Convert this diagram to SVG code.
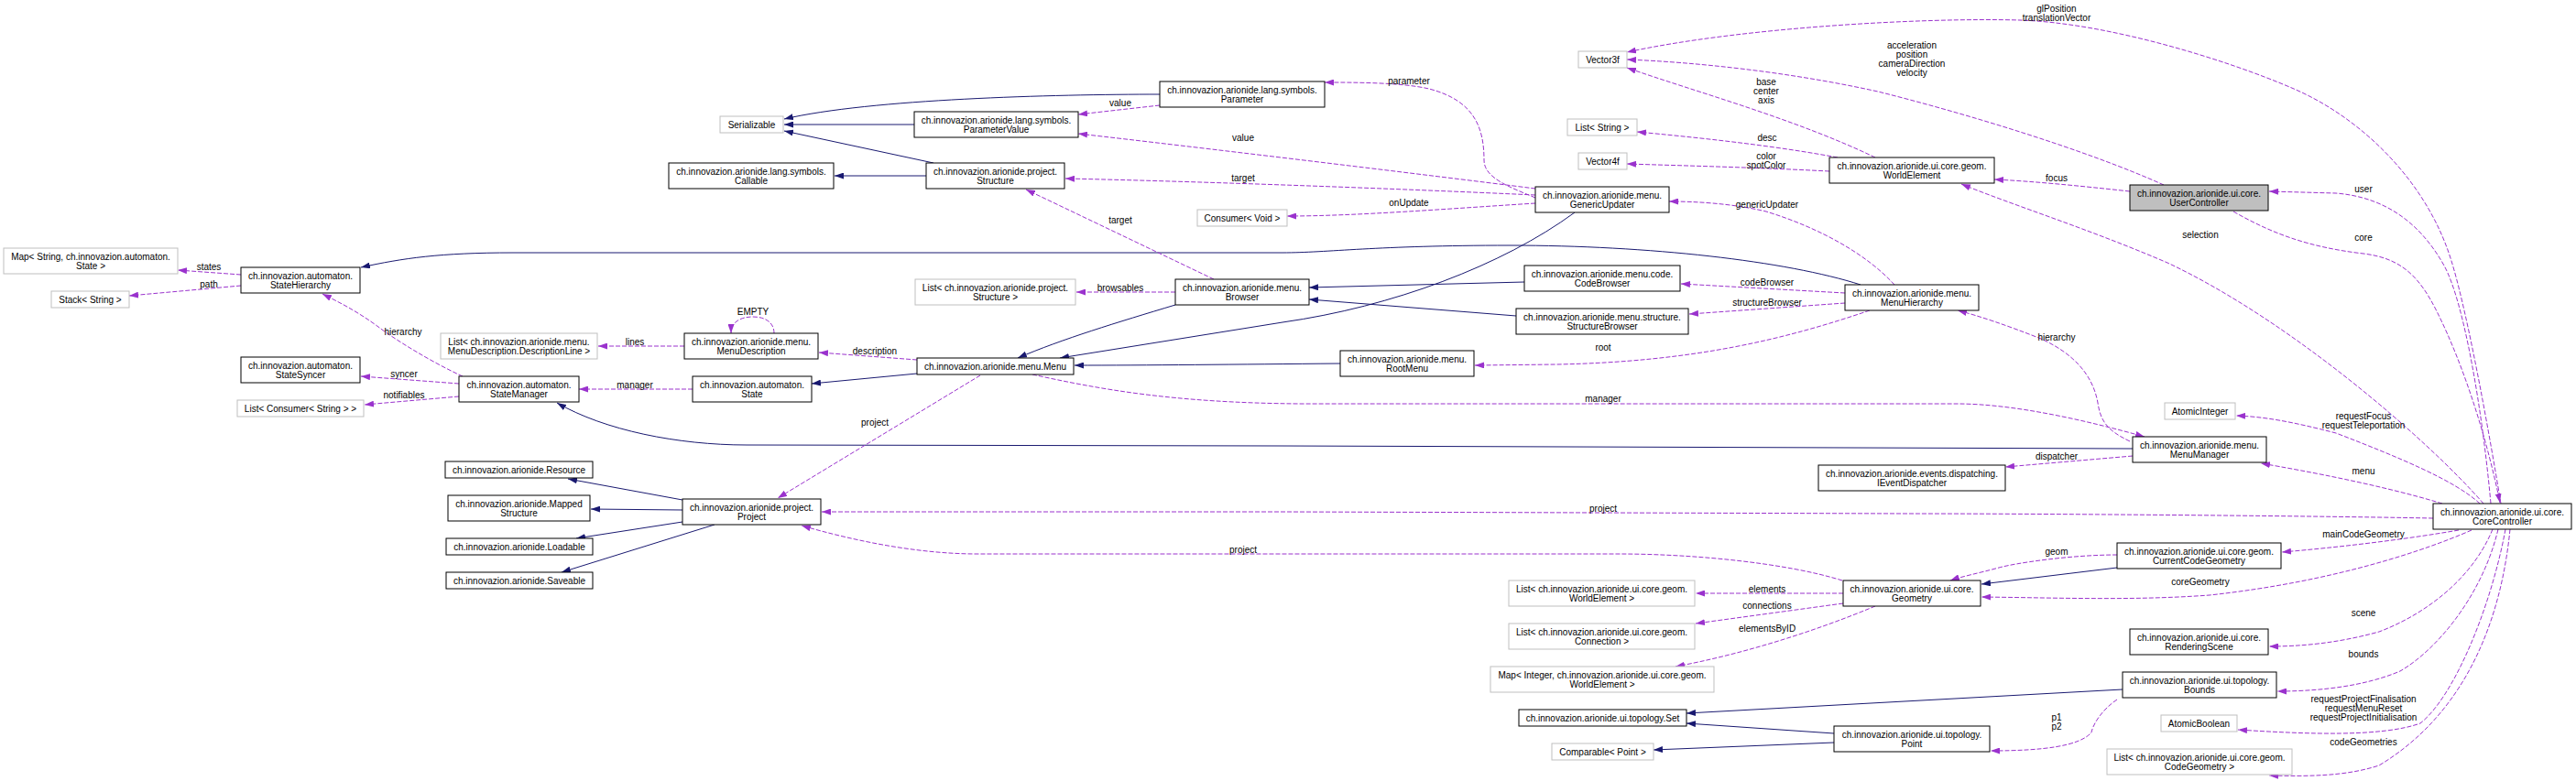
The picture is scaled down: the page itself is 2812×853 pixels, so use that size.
<svg xmlns="http://www.w3.org/2000/svg" width="2812" height="853" viewBox="0 0 2812 853">
<style>
rect{fill:#fff;stroke:#000;stroke-width:1}
.x rect{stroke:#bfbfbf}
.hl rect{fill:#bfbfbf;stroke:#000}
text{font-family:"Liberation Sans",Arial,sans-serif;font-size:10px;text-anchor:middle;fill:#000}
.inh{fill:none;stroke:#191970;stroke-width:1;marker-end:url(#ab)}
.use{fill:none;stroke:#9a32cd;stroke-width:1;stroke-dasharray:5,2;marker-end:url(#ap)}
</style>
<defs>
<marker id="ab" viewBox="0 0 10 7" refX="10" refY="3.5" markerWidth="10" markerHeight="7" markerUnits="userSpaceOnUse" orient="auto"><path d="M0,0 L10,3.5 L0,7 z" fill="#191970"/></marker>
<marker id="ap" viewBox="0 0 10 7" refX="10" refY="3.5" markerWidth="10" markerHeight="7" markerUnits="userSpaceOnUse" orient="auto"><path d="M0,0 L10,3.5 L0,7 z" fill="#9a32cd"/></marker>
</defs>
<rect x="0" y="0" width="2812" height="853" style="fill:#fff;stroke:none"/>

<g id="connectors">
<!-- inheritance -->
<path class="inh" d="M1266,103 C1150,103 950,108 856,130"/>
<path class="inh" d="M998,136 L856,136"/>
<path class="inh" d="M1019,178 L856,143"/>
<path class="inh" d="M1011,192 L911,192"/>
<path class="inh" d="M1719,232 C1640,290 1520,335 1400,352 L1157,391"/>
<path class="inh" d="M1283,333 C1220,352 1160,370 1111,391"/>
<path class="inh" d="M1664,308 L1429,314"/>
<path class="inh" d="M1655,345 L1429,327"/>
<path class="inh" d="M1463,397 C1350,398 1250,399 1173,399"/>
<path class="inh" d="M1001,408 L886,419"/>
<path class="inh" d="M2031,311 C1950,285 1800,268 1648,268 C1500,268 1450,276 1400,276 L560,276 C480,276 440,282 394,292"/>
<path class="inh" d="M2328,490 L1400,487 L815,486 C740,486 660,470 608,440"/>
<path class="inh" d="M745,546 L620,523"/>
<path class="inh" d="M745,557 L645,556"/>
<path class="inh" d="M745,570 L629,588"/>
<path class="inh" d="M780,573 L613,625"/>
<path class="inh" d="M2311,620 L2163,638"/>
<path class="inh" d="M2317,753 L1841,779"/>
<path class="inh" d="M2002,801 L1841,790"/>
<path class="inh" d="M2002,811 L1805,819"/>
<!-- usage -->
<path class="use" d="M1676,216 C1650,205 1620,195 1620,175 C1620,140 1610,110 1560,97 C1530,90 1480,90 1446,90"/>
<text x="1538" y="92">parameter</text>
<path class="use" d="M1676,206 C1550,190 1300,160 1177,146"/>
<text x="1357" y="154">value</text>
<path class="use" d="M1266,115 L1177,125"/>
<text x="1223" y="116">value</text>
<path class="use" d="M1676,213 C1500,205 1300,198 1163,195"/>
<text x="1357" y="198">target</text>
<path class="use" d="M1676,222 C1580,228 1480,236 1405,236"/>
<text x="1538" y="225">onUpdate</text>
<path class="use" d="M1325,305 L1120,207"/>
<text x="1223" y="244">target</text>
<path class="use" d="M1283,319 L1175,319"/>
<text x="1223" y="318">browsables</text>
<path class="use" d="M2362,202 C2280,165 2150,125 2050,100 C1950,78 1850,68 1776,65"/>
<text x="2087" y="53">acceleration</text>
<text x="2087" y="63">position</text>
<text x="2087" y="73">cameraDirection</text>
<text x="2087" y="83">velocity</text>
<path class="use" d="M2730,550 C2710,430 2690,330 2676,285 C2650,200 2580,130 2504,97 C2430,65 2300,25 2205,22 C2100,19 1900,30 1776,57"/>
<text x="2245" y="13">glPosition</text>
<text x="2245" y="23">translationVector</text>
<path class="use" d="M2047,172 C1960,130 1850,100 1776,74"/>
<text x="1928" y="93">base</text>
<text x="1928" y="103">center</text>
<text x="1928" y="113">axis</text>
<path class="use" d="M2006,172 C1930,158 1850,150 1787,144"/>
<text x="1929" y="154">desc</text>
<path class="use" d="M1997,187 C1920,183 1840,181 1776,179"/>
<text x="1928" y="174">color</text>
<text x="1928" y="184">spotColor</text>
<path class="use" d="M2325,209 C2270,203 2220,198 2177,196"/>
<text x="2245" y="198">focus</text>
<path class="use" d="M2711,550 C2650,480 2500,350 2366,287 C2280,250 2200,225 2141,201"/>
<text x="2402" y="260">selection</text>
<path class="use" d="M2719,550 C2710,450 2690,330 2668,290 C2640,240 2600,215 2550,211 L2477,209"/>
<text x="2580" y="210">user</text>
<path class="use" d="M2438,231 C2480,255 2520,270 2580,277 C2620,282 2640,300 2660,340 C2690,400 2715,480 2729,549"/>
<text x="2580" y="263">core</text>
<path class="use" d="M2068,311 C2040,280 1990,250 1928,231 C1890,222 1850,220 1822,220"/>
<text x="1929" y="227">genericUpdater</text>
<path class="use" d="M2014,320 L1835,310"/>
<text x="1929" y="312">codeBrowser</text>
<path class="use" d="M2014,331 L1844,343"/>
<text x="1929" y="334">structureBrowser</text>
<path class="use" d="M2041,339 C1950,370 1850,395 1700,398 L1610,399"/>
<text x="1750" y="383">root</text>
<path class="use" d="M2325,482 C2300,470 2293,460 2290,440 C2283,400 2250,380 2228,370 C2190,355 2160,345 2137,339"/>
<text x="2245" y="372">hierarchy</text>
<path class="use" d="M1127,409 C1200,425 1280,440 1420,441 L2136,441 C2200,441 2280,460 2341,477"/>
<text x="1750" y="439">manager</text>
<path class="use" d="M505,411 C470,395 430,370 413,357 C390,340 370,330 352,321"/>
<text x="440" y="366">hierarchy</text>
<path class="use" d="M263,300 L194,295"/>
<text x="228" y="295">states</text>
<path class="use" d="M263,312 L141,323"/>
<text x="228" y="314">path</text>
<path class="use" d="M501,419 L394,411"/>
<text x="441" y="412">syncer</text>
<path class="use" d="M501,433 L398,442"/>
<text x="441" y="435">notifiables</text>
<path class="use" d="M756,425 L632,425"/>
<text x="693" y="424">manager</text>
<path class="use" d="M747,378 L653,378"/>
<text x="693" y="377">lines</text>
<path class="use" d="M845,364 C845,352 835,346 822,346 C808,346 798,352 798,364"/>
<text x="822" y="344">EMPTY</text>
<path class="use" d="M1001,393 L894,385"/>
<text x="955" y="387">description</text>
<path class="use" d="M1070,410 L849,544"/>
<text x="955" y="465">project</text>
<path class="use" d="M2011,634 C1950,615 1850,605 1767,605 L1067,605 C1000,605 930,590 875,574"/>
<text x="1357" y="604">project</text>
<path class="use" d="M2656,566 C2500,563 2200,561 2090,561 L1400,559 L897,559"/>
<text x="1750" y="559">project</text>
<path class="use" d="M2707,550 C2680,525 2620,500 2550,473 C2500,460 2470,455 2441,454"/>
<text x="2580" y="458">requestFocus</text>
<text x="2580" y="468">requestTeleportation</text>
<path class="use" d="M2666,550 C2600,530 2520,515 2468,506"/>
<text x="2580" y="518">menu</text>
<path class="use" d="M2328,498 L2189,510"/>
<text x="2245" y="502">dispatcher</text>
<path class="use" d="M2684,579 C2620,590 2550,598 2491,603"/>
<text x="2580" y="587">mainCodeGeometry</text>
<path class="use" d="M2311,606 C2260,606 2200,615 2182,620 C2160,626 2140,630 2129,634"/>
<text x="2245" y="606">geom</text>
<path class="use" d="M2698,579 C2650,600 2550,635 2412,650 C2330,656 2250,653 2163,652"/>
<text x="2402" y="639">coreGeometry</text>
<path class="use" d="M2012,648 L1851,648"/>
<text x="1929" y="647">elements</text>
<path class="use" d="M2012,659 L1851,681"/>
<text x="1929" y="665">connections</text>
<path class="use" d="M2047,662 C1980,690 1900,715 1829,728"/>
<text x="1929" y="690">elementsByID</text>
<path class="use" d="M2721,578 C2700,630 2650,670 2597,690 C2550,703 2510,706 2477,706"/>
<text x="2580" y="673">scene</text>
<path class="use" d="M2727,578 C2710,650 2660,710 2620,733 C2580,750 2530,755 2486,755"/>
<text x="2580" y="718">bounds</text>
<path class="use" d="M2311,764 C2295,775 2285,790 2283,800 C2270,815 2230,820 2173,820"/>
<text x="2245" y="787">p1</text>
<text x="2245" y="797">p2</text>
<path class="use" d="M2735,578 C2720,660 2680,760 2642,790 C2600,805 2520,802 2443,797"/>
<text x="2580" y="767">requestProjectFinalisation</text>
<text x="2580" y="777">requestMenuReset</text>
<text x="2580" y="787">requestProjectInitialisation</text>
<path class="use" d="M2740,578 C2730,680 2690,780 2597,836 C2560,848 2520,848 2477,847"/>
<text x="2580" y="814">codeGeometries</text>
</g>

<g id="MapState" class="x"><rect x="4" y="271" width="190" height="28"/><text x="99" y="283.5">Map&lt; String, ch.innovazion.automaton.</text><text x="99" y="293.5">State &gt;</text></g>
<g id="StateHierarchy"><rect x="263" y="292" width="130" height="28"/><text x="328" y="304.5">ch.innovazion.automaton.</text><text x="328" y="314.5">StateHierarchy</text></g>
<g id="StackString" class="x"><rect x="56" y="318" width="85" height="18"/><text x="98.5" y="330.5">Stack&lt; String &gt;</text></g>
<g id="DescriptionLineList" class="x"><rect x="481" y="364" width="171" height="28"/><text x="566.5" y="376.5">List&lt; ch.innovazion.arionide.menu.</text><text x="566.5" y="386.5">MenuDescription.DescriptionLine &gt;</text></g>
<g id="StateSyncer"><rect x="263" y="390" width="130" height="28"/><text x="328" y="402.5">ch.innovazion.automaton.</text><text x="328" y="412.5">StateSyncer</text></g>
<g id="StateManager"><rect x="501" y="411" width="131" height="28"/><text x="566.5" y="423.5">ch.innovazion.automaton.</text><text x="566.5" y="433.5">StateManager</text></g>
<g id="ConsumerStringList" class="x"><rect x="259" y="437" width="138" height="18"/><text x="328" y="449.5">List&lt; Consumer&lt; String &gt; &gt;</text></g>
<g id="Resource"><rect x="486" y="504" width="161" height="18"/><text x="566.5" y="516.5">ch.innovazion.arionide.Resource</text></g>
<g id="MappedStructure"><rect x="489" y="541" width="155" height="28"/><text x="566.5" y="553.5">ch.innovazion.arionide.Mapped</text><text x="566.5" y="563.5">Structure</text></g>
<g id="Loadable"><rect x="487" y="588" width="160" height="18"/><text x="567" y="600.5">ch.innovazion.arionide.Loadable</text></g>
<g id="Saveable"><rect x="487" y="625" width="160" height="18"/><text x="567" y="637.5">ch.innovazion.arionide.Saveable</text></g>
<g id="Serializable" class="x"><rect x="786" y="127" width="69" height="18"/><text x="820.5" y="139.5">Serializable</text></g>
<g id="Callable"><rect x="730" y="178" width="180" height="28"/><text x="820" y="190.5">ch.innovazion.arionide.lang.symbols.</text><text x="820" y="200.5">Callable</text></g>
<g id="ParameterValue"><rect x="998" y="122" width="179" height="28"/><text x="1087.5" y="134.5">ch.innovazion.arionide.lang.symbols.</text><text x="1087.5" y="144.5">ParameterValue</text></g>
<g id="Structure"><rect x="1011" y="178" width="151" height="28"/><text x="1086.5" y="190.5">ch.innovazion.arionide.project.</text><text x="1086.5" y="200.5">Structure</text></g>
<g id="Parameter"><rect x="1266" y="89" width="180" height="28"/><text x="1356" y="101.5">ch.innovazion.arionide.lang.symbols.</text><text x="1356" y="111.5">Parameter</text></g>
<g id="ConsumerVoid" class="x"><rect x="1307" y="229" width="98" height="18"/><text x="1356" y="241.5">Consumer&lt; Void &gt;</text></g>
<g id="Vector3f" class="x"><rect x="1723" y="56" width="53" height="18"/><text x="1749.5" y="68.5">Vector3f</text></g>
<g id="ListString" class="x"><rect x="1711" y="130" width="76" height="18"/><text x="1749" y="142.5">List&lt; String &gt;</text></g>
<g id="Vector4f" class="x"><rect x="1723" y="167" width="53" height="18"/><text x="1749.5" y="179.5">Vector4f</text></g>
<g id="GenericUpdater"><rect x="1676" y="204" width="146" height="28"/><text x="1749" y="216.5">ch.innovazion.arionide.menu.</text><text x="1749" y="226.5">GenericUpdater</text></g>
<g id="WorldElement"><rect x="1997" y="172" width="180" height="28"/><text x="2087" y="184.5">ch.innovazion.arionide.ui.core.geom.</text><text x="2087" y="194.5">WorldElement</text></g>
<g id="UserController" class="hl"><rect x="2325" y="202" width="151" height="28"/><text x="2400.5" y="214.5">ch.innovazion.arionide.ui.core.</text><text x="2400.5" y="224.5">UserController</text></g>
<g id="StructureList" class="x"><rect x="999" y="305" width="175" height="28"/><text x="1086.5" y="317.5">List&lt; ch.innovazion.arionide.project.</text><text x="1086.5" y="327.5">Structure &gt;</text></g>
<g id="Browser"><rect x="1283" y="305" width="146" height="28"/><text x="1356" y="317.5">ch.innovazion.arionide.menu.</text><text x="1356" y="327.5">Browser</text></g>
<g id="CodeBrowser"><rect x="1664" y="290" width="170" height="28"/><text x="1749" y="302.5">ch.innovazion.arionide.menu.code.</text><text x="1749" y="312.5">CodeBrowser</text></g>
<g id="StructureBrowser"><rect x="1655" y="337" width="188" height="28"/><text x="1749" y="349.5">ch.innovazion.arionide.menu.structure.</text><text x="1749" y="359.5">StructureBrowser</text></g>
<g id="MenuHierarchy"><rect x="2014" y="311" width="146" height="28"/><text x="2087" y="323.5">ch.innovazion.arionide.menu.</text><text x="2087" y="333.5">MenuHierarchy</text></g>
<g id="MenuDescription"><rect x="747" y="364" width="146" height="28"/><text x="820" y="376.5">ch.innovazion.arionide.menu.</text><text x="820" y="386.5">MenuDescription</text></g>
<g id="Menu"><rect x="1001" y="391" width="171" height="18"/><text x="1086.5" y="403.5">ch.innovazion.arionide.menu.Menu</text></g>
<g id="State"><rect x="756" y="411" width="130" height="28"/><text x="821" y="423.5">ch.innovazion.automaton.</text><text x="821" y="433.5">State</text></g>
<g id="RootMenu"><rect x="1463" y="383" width="146" height="28"/><text x="1536" y="395.5">ch.innovazion.arionide.menu.</text><text x="1536" y="405.5">RootMenu</text></g>
<g id="AtomicInteger" class="x"><rect x="2363" y="440" width="77" height="18"/><text x="2401.5" y="452.5">AtomicInteger</text></g>
<g id="MenuManager"><rect x="2328" y="477" width="146" height="28"/><text x="2401" y="489.5">ch.innovazion.arionide.menu.</text><text x="2401" y="499.5">MenuManager</text></g>
<g id="IEventDispatcher"><rect x="1985" y="508" width="204" height="28"/><text x="2087" y="520.5">ch.innovazion.arionide.events.dispatching.</text><text x="2087" y="530.5">IEventDispatcher</text></g>
<g id="Project"><rect x="745" y="545" width="151" height="28"/><text x="820.5" y="557.5">ch.innovazion.arionide.project.</text><text x="820.5" y="567.5">Project</text></g>
<g id="CoreController"><rect x="2656" y="550" width="151" height="28"/><text x="2731.5" y="562.5">ch.innovazion.arionide.ui.core.</text><text x="2731.5" y="572.5">CoreController</text></g>
<g id="CurrentCodeGeometry"><rect x="2311" y="593" width="179" height="28"/><text x="2400.5" y="605.5">ch.innovazion.arionide.ui.core.geom.</text><text x="2400.5" y="615.5">CurrentCodeGeometry</text></g>
<g id="Geometry"><rect x="2012" y="634" width="150" height="28"/><text x="2087" y="646.5">ch.innovazion.arionide.ui.core.</text><text x="2087" y="656.5">Geometry</text></g>
<g id="WorldElementList" class="x"><rect x="1647" y="634" width="203" height="28"/><text x="1748.5" y="646.5">List&lt; ch.innovazion.arionide.ui.core.geom.</text><text x="1748.5" y="656.5">WorldElement &gt;</text></g>
<g id="ConnectionList" class="x"><rect x="1647" y="681" width="203" height="28"/><text x="1748.5" y="693.5">List&lt; ch.innovazion.arionide.ui.core.geom.</text><text x="1748.5" y="703.5">Connection &gt;</text></g>
<g id="WorldElementMap" class="x"><rect x="1627" y="728" width="244" height="28"/><text x="1749" y="740.5">Map&lt; Integer, ch.innovazion.arionide.ui.core.geom.</text><text x="1749" y="750.5">WorldElement &gt;</text></g>
<g id="RenderingScene"><rect x="2325" y="687" width="151" height="28"/><text x="2400.5" y="699.5">ch.innovazion.arionide.ui.core.</text><text x="2400.5" y="709.5">RenderingScene</text></g>
<g id="Bounds"><rect x="2317" y="734" width="168" height="28"/><text x="2401" y="746.5">ch.innovazion.arionide.ui.topology.</text><text x="2401" y="756.5">Bounds</text></g>
<g id="Set"><rect x="1658" y="775" width="183" height="18"/><text x="1749.5" y="787.5">ch.innovazion.arionide.ui.topology.Set</text></g>
<g id="AtomicBoolean" class="x"><rect x="2359" y="781" width="83" height="18"/><text x="2400.5" y="793.5">AtomicBoolean</text></g>
<g id="Point"><rect x="2002" y="793" width="170" height="28"/><text x="2087" y="805.5">ch.innovazion.arionide.ui.topology.</text><text x="2087" y="815.5">Point</text></g>
<g id="Comparable" class="x"><rect x="1694" y="812" width="111" height="18"/><text x="1749.5" y="824.5">Comparable&lt; Point &gt;</text></g>
<g id="CodeGeometryList" class="x"><rect x="2300" y="818" width="202" height="28"/><text x="2401" y="830.5">List&lt; ch.innovazion.arionide.ui.core.geom.</text><text x="2401" y="840.5">CodeGeometry &gt;</text></g>
</svg>
